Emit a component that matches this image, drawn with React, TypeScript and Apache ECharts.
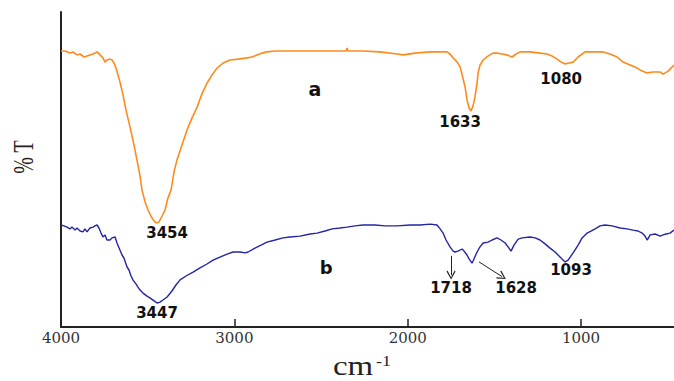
import React, { useEffect, useRef } from "react";
import * as echarts from "echarts";

// ---- data (wavenumber in cm-1, transmittance in arbitrary %T units) ----
const wavenumbersA = [4000,3977,3948,3931,3908,3890,3867,3850,3833,3815,3792,3775,3758,3746,3735,3717,3706,3694,3683,3671,3660,3642,3625,3602,3579,3562,3544,3533,3515,3498,3475,3458,3446,3435,3417,3400,3383,3365,3348,3331,3302,3273,3244,3215,3187,3158,3129,3100,3065,3025,2979,2927,2898,2869,2840,2812,2765,2696,2621,2506,2390,2356,2350,2344,2258,2160,2062,2027,1958,1871,1773,1756,1738,1715,1698,1686,1669,1658,1646,1635,1623,1612,1600,1594,1583,1565,1537,1508,1485,1456,1427,1398,1375,1352,1294,1237,1196,1167,1138,1115,1092,1069,1046,1017,977,919,873,833,792,758,717,677,648,619,585,544,527,515,498,481,464];
const transmittanceA = [92.0,92.0,91.3,91.7,90.7,91.0,90.0,90.3,90.7,91.0,91.7,90.7,89.7,88.3,89.0,89.3,89.0,88.0,86.3,84.0,81.7,77.3,72.3,66.7,60.7,55.7,50.3,45.7,41.7,39.0,36.3,35.0,34.7,35.0,37.0,39.0,43.0,45.7,51.7,55.7,60.7,65.7,69.7,73.3,77.7,81.3,84.0,86.3,88.0,89.0,89.3,89.7,90.0,90.7,91.3,91.7,92.0,92.0,92.0,92.0,92.0,92.0,93.0,92.0,92.0,91.7,91.0,90.7,91.3,91.7,91.7,91.0,89.7,88.3,86.7,84.0,80.0,75.7,73.0,72.0,73.7,76.7,81.3,84.7,87.3,89.0,90.3,91.3,91.3,91.0,90.7,90.0,91.0,91.7,91.7,91.3,91.0,90.3,89.3,88.3,87.7,88.0,88.3,90.0,91.7,91.7,91.7,91.0,90.0,88.3,87.3,86.3,85.3,84.7,85.0,85.0,84.3,84.7,85.3,86.3,87.3];

const wavenumbersB = [4000,3983,3965,3948,3937,3919,3908,3890,3873,3862,3850,3833,3815,3804,3792,3781,3769,3758,3746,3735,3717,3706,3688,3677,3660,3648,3637,3619,3608,3596,3585,3567,3556,3544,3527,3504,3487,3463,3446,3429,3412,3388,3360,3337,3313,3279,3238,3198,3158,3123,3083,3042,3008,2967,2938,2921,2881,2846,2812,2765,2719,2679,2621,2563,2523,2477,2436,2390,2350,2304,2258,2188,2131,2062,1986,1929,1871,1831,1813,1796,1779,1756,1738,1727,1710,1686,1675,1658,1646,1629,1623,1600,1583,1565,1537,1513,1485,1462,1438,1421,1404,1387,1363,1340,1294,1265,1237,1208,1179,1150,1133,1110,1092,1075,1046,1017,994,965,919,890,862,821,775,735,700,671,648,631,619,608,602,573,544,527,510,487,464];
const transmittanceB = [34.0,33.7,33.3,32.7,33.3,32.3,33.0,32.0,31.7,32.7,31.7,33.0,33.3,33.7,34.0,33.0,31.3,30.0,30.7,29.0,29.0,29.7,30.0,28.0,25.7,24.0,23.0,20.0,19.0,17.0,15.7,14.3,13.3,12.3,11.3,10.3,9.7,8.7,8.0,8.3,9.0,10.0,12.0,14.0,15.7,17.0,18.3,19.7,21.0,22.3,23.3,24.3,25.0,25.0,24.7,25.0,26.3,27.3,28.3,29.0,29.7,30.0,30.3,31.0,31.3,32.0,32.7,33.0,33.3,33.7,34.0,34.0,33.7,33.7,34.0,34.0,34.3,34.0,32.7,31.3,29.0,26.7,25.3,25.0,25.3,26.0,25.3,24.0,22.7,21.3,22.0,25.0,26.7,28.0,28.3,29.0,29.7,29.0,28.0,26.7,25.3,27.3,29.3,29.7,30.0,29.7,29.0,27.7,26.3,25.0,24.0,22.7,21.7,22.3,24.7,27.3,29.7,31.3,32.7,33.7,34.0,33.7,33.0,32.7,32.3,32.0,31.3,30.3,29.0,30.0,30.7,31.0,30.3,30.7,31.0,31.3,32.3];

const tickValues = [1000, 2000, 3000, 4000];

// peak annotations: text and where it sits in data coordinates
const peakLabelsA = ["3454", "1633", "1080"];
const peakLabelPosA = [[3388, 31.3], [1698, 68.3], [1115, 82.7]];
const peakLabelsB = ["3447", "1718", "1628", "1093"];
const peakLabelPosB = [[3446, 4.7], [1750, 13.0], [1375, 13.0], [1058, 19.0]];
const seriesNames = ["a", "b"];
const seriesNamePos = [[2535, 79.3], [2471, 19.7]];
// arrows (start, end) in data coordinates
const arrowsB = [
  [[1750, 23.7], [1750, 17.3]],
  [[1589, 21.7], [1456, 16.8]],
];

const ORANGE = "#ff8a1f";
const BLUE = "#2424a6";

const labelStyle = {
  show: true,
  position: "inside",
  formatter: "{b}",
  fontFamily: "DejaVu Sans",
  fontWeight: "bold",
  fontSize: 15,
  color: "#111",
};

const chevron = "path://M5,0L10,9L9,10L5,2.5L1,10L0,9Z";

export default function App() {
  const ref = useRef<HTMLDivElement>(null);
  useEffect(() => {
    document.body.style.margin = "0";
    const chart = echarts.init(ref.current!, null, { renderer: "svg" });
    const mkPoints = (names: string[], pos: number[][], size = 15) =>
      names.map((n, i) => ({
        name: n,
        coord: pos[i],
        label: { ...labelStyle, fontSize: size },
      }));
    chart.setOption({
      animation: false,
      grid: { left: 61, right: 0, top: 12, bottom: 54 },
      xAxis: {
        type: "value",
        inverse: true,
        min: 464,
        max: 4000,
        axisLine: { show: true, onZero: false, lineStyle: { color: "#222", width: 2 } },
        axisTick: { show: true, inside: true, length: 8, customValues: tickValues, lineStyle: { color: "#222", width: 1.5 } },
        axisLabel: {
          customValues: tickValues,
          formatter: (v: number) => String(v),
          fontFamily: "DejaVu Serif",
          fontSize: 15,
          color: "#333",
          margin: 3,
        },
        splitLine: { show: false },
      },
      yAxis: {
        type: "value",
        min: 0,
        max: 105,
        axisLine: { show: true, lineStyle: { color: "#222", width: 2 } },
        axisTick: { show: false },
        axisLabel: { show: false },
        splitLine: { show: false },
      },
      series: [
        {
          type: "line",
          name: "a",
          showSymbol: false,
          data: wavenumbersA.map((w, i) => [w, transmittanceA[i]]),
          lineStyle: { color: ORANGE, width: 1.6 },
          itemStyle: { color: ORANGE },
          markPoint: {
            silent: true,
            symbol: "circle",
            symbolSize: 1,
            itemStyle: { color: "rgba(0,0,0,0)" },
            data: [
              ...mkPoints(peakLabelsA, peakLabelPosA),
              ...mkPoints([seriesNames[0]], [seriesNamePos[0]], 19),
            ],
          },
        },
        {
          type: "line",
          name: "b",
          showSymbol: false,
          data: wavenumbersB.map((w, i) => [w, transmittanceB[i]]),
          lineStyle: { color: BLUE, width: 1.4 },
          itemStyle: { color: BLUE },
          markPoint: {
            silent: true,
            symbol: "circle",
            symbolSize: 1,
            itemStyle: { color: "rgba(0,0,0,0)" },
            data: [
              ...mkPoints(peakLabelsB, peakLabelPosB),
              ...mkPoints([seriesNames[1]], [seriesNamePos[1]], 18),
            ],
          },
          markLine: {
            silent: true,
            symbol: ["none", chevron],
            symbolSize: [9, 9],
            label: { show: false },
            lineStyle: { color: "#222", width: 1, type: "solid" },
            data: arrowsB.map(([s, e]) => [{ coord: s }, { coord: e }]),
          },
        },
      ],
      graphic: [
        {
          type: "text",
          x: 23,
          y: 157,
          rotation: Math.PI / 2,
          scaleY: 1.45,
          style: {
            text: "% T",
            font: "20px 'Liberation Serif'",
            fill: "#222",
            align: "center",
            verticalAlign: "middle",
          },
        },
        {
          type: "text",
          x: 333,
          y: 380,
          scaleX: 1.22,
          style: {
            text: "cm",
            font: "27px 'Liberation Serif'",
            fill: "#222",
            align: "left",
            verticalAlign: "bottom",
          },
        },
        {
          type: "text",
          x: 376,
          y: 361,
          scaleX: 1.2,
          style: {
            text: "-1",
            font: "15px 'Liberation Serif'",
            fill: "#222",
            align: "left",
            verticalAlign: "middle",
          },
        },
      ],
    });
    return () => chart.dispose();
  }, []);
  return <div ref={ref} style={{ width: 674, height: 381 }} />;
}
